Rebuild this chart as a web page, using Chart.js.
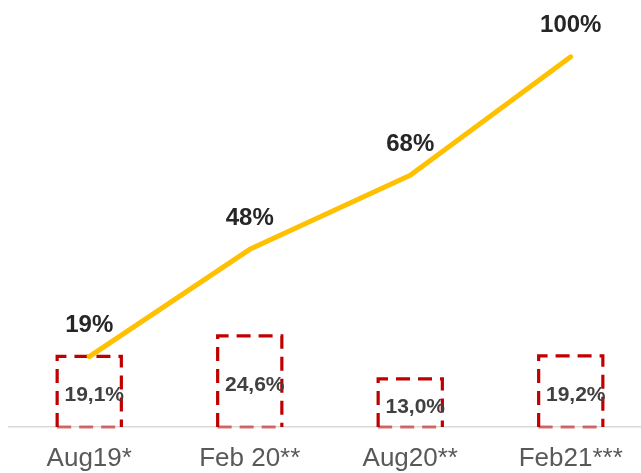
<!DOCTYPE html>
<html>
<head>
<meta charset="utf-8">
<script src="https://cdn.jsdelivr.net/npm/chart.js@4.4.1/dist/chart.umd.min.js"></script>
<style>
  html, body { margin: 0; padding: 0; background: #ffffff; overflow: hidden; }
  #wrap { width: 641px; height: 473px; overflow: hidden; position: relative; }
  canvas { position: absolute; left: 0; top: 0; }
</style>
</head>
<body>
<div id="wrap"><canvas id="c" width="660" height="473"></canvas></div>
<script>
const categories = ['Aug19*', 'Feb 20**', 'Aug20**', 'Feb21***'];
const lineValues = [19, 48, 68, 100];
const lineLabels = ['19%', '48%', '68%', '100%'];
const barValues = [19.1, 24.6, 13.0, 19.2];
const barLabels = ['19,1%', '24,6%', '13,0%', '19,2%'];

const FONT = '"Liberation Sans", Arial, sans-serif';

const dashedBars = {
  id: 'dashedBars',
  afterDatasetDraw(chart, args) {
    if (args.index !== 1) return;
    const ctx = chart.ctx;
    const meta = chart.getDatasetMeta(1);
    ctx.save();
    ctx.lineWidth = 3.2;
    ctx.setLineDash([14, 8]);
    meta.data.forEach(el => {
      const p = el.getProps(['x', 'y', 'base', 'width'], true);
      const l = p.x - p.width / 2, r = p.x + p.width / 2;
      ctx.strokeStyle = '#C00000';
      ctx.beginPath();
      ctx.moveTo(l, p.base);
      ctx.lineTo(l, p.y);
      ctx.lineTo(r, p.y);
      ctx.lineTo(r, p.base);
      ctx.stroke();
      ctx.strokeStyle = 'rgba(192,0,0,0.55)';
      ctx.beginPath();
      ctx.moveTo(l, p.base);
      ctx.lineTo(r, p.base);
      ctx.stroke();
    });
    ctx.restore();
  }
};

const valueLabels = {
  id: 'valueLabels',
  afterDraw(chart) {
    const ctx = chart.ctx;
    ctx.save();
    ctx.textAlign = 'center';
    ctx.textBaseline = 'middle';
    const lineMeta = chart.getDatasetMeta(0);
    ctx.font = 'bold 24px ' + FONT;
    ctx.fillStyle = '#262626';
    lineMeta.data.forEach((pt, i) => {
      ctx.fillText(lineLabels[i], pt.x, pt.y - 31);
    });
    const barMeta = chart.getDatasetMeta(1);
    ctx.font = 'bold 21px ' + FONT;
    ctx.fillStyle = '#404040';
    barMeta.data.forEach((el, i) => {
      const p = el.getProps(['x', 'y', 'base'], true);
      ctx.fillText(barLabels[i], p.x + 5, (p.y + p.base) / 2 + 4);
    });
    ctx.restore();
  }
};

new Chart(document.getElementById('c'), {
  data: {
    labels: categories,
    datasets: [
      {
        type: 'line',
        data: lineValues,
        borderColor: '#FFC000',
        borderWidth: 5,
        borderCapStyle: 'round',
        borderJoinStyle: 'round',
        pointRadius: 0,
        tension: 0,
        fill: false,
        order: 0
      },
      {
        type: 'bar',
        data: barValues,
        backgroundColor: 'rgba(0,0,0,0)',
        borderWidth: 0,
        categoryPercentage: 1,
        barPercentage: 0.4,
        order: 1
      }
    ]
  },
  options: {
    responsive: false,
    animation: false,
    devicePixelRatio: 1,
    layout: { padding: { left: 9, right: 9, top: 5, bottom: 0 } },
    plugins: { legend: { display: false }, tooltip: { enabled: false } },
    scales: {
      x: {
        z: 1,
        grid: { display: false, drawTicks: false },
        border: { display: true, color: '#D9D9D9', width: 1.5 },
        ticks: { color: '#595959', font: { family: FONT, size: 26 }, padding: 16 },
        afterFit(scale) { scale.height = 46; }
      },
      y: { display: false, min: 0, max: 114 }
    }
  },
  plugins: [dashedBars, valueLabels]
});
</script>
</body>
</html>
